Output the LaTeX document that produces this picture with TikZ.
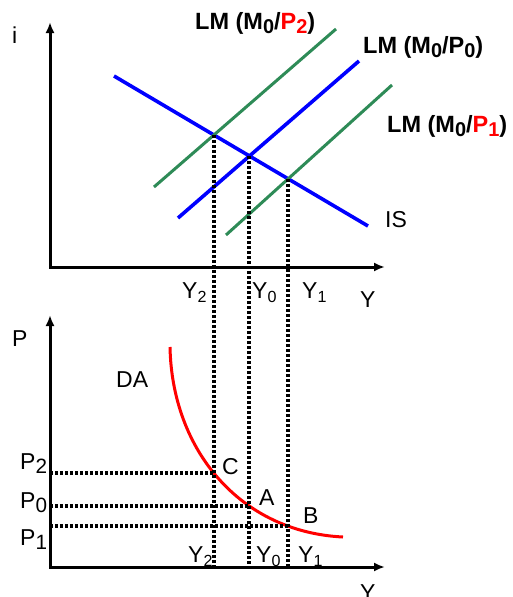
\documentclass[tikz,border=0pt]{standalone}
\usepackage{fontspec}
\setmainfont{Liberation Sans}
\usetikzlibrary{arrows.meta,intersections}
\definecolor{isblue}{RGB}{0,0,255}
\definecolor{lmgreen}{RGB}{46,139,87}
\definecolor{dared}{RGB}{255,0,0}
\newcommand{\lowsub}[2][0.8]{\raisebox{-0.4ex}{\scalebox{#1}{#2}}}

\begin{document}
\begin{tikzpicture}[x=1pt, y=-1pt,
      lbl/.style={font=\fontsize{23}{26}\selectfont, anchor=base west, inner sep=0pt},
      lmlbl/.style={lbl, font=\fontsize{23.5}{26}\selectfont\bfseries},
      axis/.style={{Latex[length=11pt,width=9pt]}-{Latex[length=11pt,width=9pt]}, line width=3pt},
      bluel/.style={isblue, line width=3.6pt},
      greenl/.style={lmgreen, line width=3pt},
      guide/.style={line width=4pt, dash pattern=on 3pt off 2pt},
    ]
    \useasboundingbox (0,0) rectangle (512,597);

    % --- top: IS-LM ---
    \coordinate (itop) at (50,22);
    \coordinate (oa) at (50,267);
    \coordinate (yenda) at (385,267);
    \draw[axis] (itop) -- (oa) -- (yenda);

    \draw[bluel, name path=is] (114,76) -- (368,226);
    \draw[greenl, name path=lmtwo] (154,187) -- (336,29);
    \draw[bluel, name path=lmzero] (178,218) -- (359,61);
    \draw[greenl, name path=lmone] (226,235) -- (392,85);
    \path[name intersections={of=is and lmtwo, by=E2}];
    \path[name intersections={of=is and lmzero, by=E0}];
    \path[name intersections={of=is and lmone, by=E1}];

    \node[lbl] (ilbl) at (12,43) {i};
    \node[lmlbl] (lmtwolbl) at (195,29) {LM (M\lowsub[0.85]{0}/\textcolor{dared}{P\lowsub[0.85]{2}})};
    \node[lmlbl] (lmzerolbl) at (363,53) {LM (M\lowsub[0.85]{0}/P\lowsub[0.85]{0})};
    \node[lmlbl] (lmonelbl) at (387,132) {LM (M\lowsub[0.85]{0}/\textcolor{dared}{P\lowsub[0.85]{1}})};
    \node[lbl] (islbl) at (385,227) {IS};
    \node[lbl] (ytwoa) at (182,298) {Y\lowsub[0.7]{2}};
    \node[lbl] (yzeroa) at (252,298) {Y\lowsub[0.7]{0}};
    \node[lbl] (yonea) at (302,298) {Y\lowsub[0.7]{1}};
    \node[lbl] (ya) at (360,307) {Y};

    % --- bottom: DA ---
    \coordinate (ptop) at (50,315);
    \coordinate (ob) at (50,567);
    \coordinate (yendb) at (385,567);
    \draw[axis] (ptop) -- (ob) -- (yendb);

    \draw[dared, line width=3pt, name path=da]
      (170,347) .. controls (172,450) and (240,532) .. (343,537);
    \path[name path=vtwo] (E2) -- (E2 |- ob);
    \path[name path=vzero] (E0) -- (E0 |- ob);
    \path[name path=vone] (E1) -- (E1 |- ob);
    \path[name intersections={of=da and vtwo, by=C}];
    \path[name intersections={of=da and vzero, by=A}];
    \path[name intersections={of=da and vone, by=B}];

    % dotted guides
    \draw[guide] (E2) -- (E2 |- ob);
    \draw[guide] (E0) -- (E0 |- ob);
    \draw[guide] (E1) -- (E1 |- ob);
    \draw[guide] (ob |- C) -- (C);
    \draw[guide] (ob |- A) -- (A);
    \draw[guide] (ob |- B) -- (B);

    \node[lbl] (plbl) at (12,346) {P};
    \node[lbl] (dalbl) at (116,387) {DA};
    \node[lbl] (ptwo) at (20,469) {P\lowsub[0.9]{2}};
    \node[lbl] (pzero) at (20,508) {P\lowsub[0.9]{0}};
    \node[lbl] (pone) at (20,545) {P\lowsub[0.9]{1}};
    \node[lbl] (clbl) at (222,474) {C};
    \node[lbl] (albl) at (259,505) {A};
    \node[lbl] (blbl) at (303,523) {B};
    \node[lbl] (ytwob) at (188,562) {Y\lowsub[0.7]{2}};
    \node[lbl] (yzerob) at (256,562) {Y\lowsub[0.7]{0}};
    \node[lbl] (yoneb) at (298,562) {Y\lowsub[0.7]{1}};
    \node[lbl] (yb) at (360,600) {Y};
  \end{tikzpicture}
\end{document}
